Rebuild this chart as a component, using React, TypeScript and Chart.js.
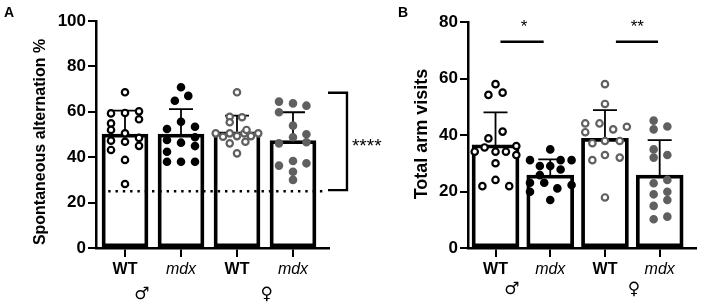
import React, { useEffect, useRef } from 'react';
import { Chart, registerables } from 'chart.js';

Chart.register(...registerables);

const FONT = '"Liberation Sans", Arial, "DejaVu Sans", sans-serif';
const SYMBOL_FONT = '"DejaVu Sans", sans-serif';
const GRAY = '#606060';

// ---- shared categories ----
const CATEGORIES = ['WT', 'mdx', 'WT', 'mdx'];
const SEXES = ['♂', '♀'];
const SEX_POS = [0.3, 2.53];

// ---- Panel A : spontaneous alternation ----
const A_TITLE = 'Spontaneous alternation %';
const A_Y_MAX = 100;
const A_Y_STEP = 20;
const A_MEANS = [50.2, 50.2, 51.2, 47.3];
const A_SD_TOP = [60.5, 61.2, 58.3, 59.8];
const A_WT_M = [68.6, 59.3, 59.5, 60.2, 54.9, 56.7, 52.0, 50.5, 47.3, 46.8, 48.5, 45.0, 43.2, 38.8, 28.2];
const A_WT_M_JIT = [0, -0.25, 0, 0.25, -0.25, 0.25, -0.25, 0, -0.25, 0, 0.25, 0.25, -0.25, 0, 0];
const A_MDX_M = [70.8, 64.9, 67.0, 55.6, 52.4, 53.4, 47.6, 46.4, 48.8, 44.9, 42.4, 38.0, 38.0, 38.0];
const A_MDX_M_JIT = [0, -0.11, 0.13, 0, -0.25, 0.25, -0.25, 0, 0.25, 0.25, -0.25, -0.25, 0, 0.25];
const A_WT_F = [68.6, 57.8, 57.6, 55.4, 50.5, 49.0, 50.5, 49.3, 50.5, 52.0, 49.3, 50.5, 46.1, 46.8, 41.7];
const A_WT_F_JIT = [0, -0.13, 0.09, -0.13, -0.38, -0.25, -0.13, 0, 0.13, 0.17, 0.25, 0.38, -0.13, 0.15, 0];
const A_MDX_F = [64.5, 63.7, 62.7, 59.8, 53.9, 48.8, 50.1, 46.1, 46.6, 36.3, 38.3, 37.3, 33.6, 30.0];
const A_MDX_F_JIT = [-0.25, 0, 0.24, -0.25, 0, 0, 0.24, -0.25, 0.24, -0.25, 0, 0.24, 0, 0];
const A_CHANCE = 25;
const A_BRACKET = [68.4, 25.5];
const A_BRACKET_LABEL = '****';

// ---- Panel B : total arm visits ----
const B_TITLE = 'Total arm visits';
const B_Y_MAX = 80;
const B_Y_STEP = 20;
const B_MEANS = [36.5, 25.8, 38.8, 25.8];
const B_SD_TOP = [48.0, 31.4, 48.8, 38.2];
const B_WT_M = [58.0, 54.2, 55.0, 41.2, 38.8, 35.6, 34.1, 34.1, 34.1, 36.1, 32.9, 30.0, 24.1, 21.9, 21.9];
const B_WT_M_JIT = [0, -0.13, 0.13, 0.13, -0.13, -0.2, -0.38, 0, 0.19, 0.38, 0.38, 0, 0, -0.24, 0.25];
const B_MDX_M = [34.9, 31.1, 29.0, 29.0, 31.1, 31.1, 27.8, 25.8, 23.1, 23.1, 22.3, 19.9, 21.1, 17.0];
const B_MDX_M_JIT = [0, -0.37, -0.19, 0, 0.19, 0.39, 0.19, -0.19, -0.37, -0.11, 0.39, -0.37, 0.13, 0];
const B_WT_F = [58.0, 51.0, 44.1, 41.0, 44.1, 42.0, 42.9, 37.1, 37.9, 37.9, 31.1, 32.9, 32.0, 17.9];
const B_WT_F_JIT = [0, 0, -0.36, -0.36, -0.1, 0.15, 0.4, -0.23, 0, 0.27, -0.23, 0, 0.27, 0];
const B_MDX_F = [45.1, 42.0, 43.0, 34.9, 32.0, 32.9, 22.9, 24.1, 19.0, 19.9, 14.9, 17.0, 10.2, 11.1];
const B_MDX_F_JIT = [-0.11, -0.11, 0.14, -0.11, -0.11, 0.14, -0.11, 0.14, -0.11, 0.14, -0.11, 0.14, -0.11, 0.14];
const B_SIG_Y = 73;
const B_SIG_LABELS = ['*', '**'];

const GROUP_STYLES = [
  { bg: '#ffffff', border: '#000000' },
  { bg: '#000000', border: '#000000' },
  { bg: '#ffffff', border: GRAY },
  { bg: GRAY, border: GRAY },
];

type Spec = {
  letter: string;
  letterX: number;
  title: string;
  titleX: number;
  titleY: number;
  titleSize: number;
  yMax: number;
  yStep: number;
  yAxisW: number;
  xMin: number;
  xMax: number;
  padRight: number;
  padTop: number;
  barW: number;
  means: number[];
  sdTop: number[];
  groups: number[][];
  jitter: number[][];
  sexY: number;
  extra: (chart: any) => void;
};

function errorAndRefPlugin(spec: Spec) {
  return {
    id: 'errbars-' + spec.letter,
    afterDatasetDraw(chart: any, args: any) {
      const meta = chart.getDatasetMeta(args.index);
      if (meta.type !== 'bar') return;
      const { ctx } = chart;
      const x = chart.scales.x;
      const y = chart.scales.y;
      ctx.save();
      ctx.strokeStyle = '#000';
      ctx.lineWidth = 1.8;
      spec.means.forEach((m, i) => {
        const px = x.getPixelForValue(i);
        const y0 = y.getPixelForValue(m);
        const y1 = y.getPixelForValue(spec.sdTop[i]);
        ctx.beginPath();
        ctx.moveTo(px, y0);
        ctx.lineTo(px, y1);
        ctx.moveTo(px - 12, y1);
        ctx.lineTo(px + 12, y1);
        ctx.stroke();
      });
      if (spec.letter === 'A') {
        const yy = y.getPixelForValue(A_CHANCE);
        ctx.setLineDash([2.4, 4.9]);
        ctx.lineWidth = 2.4;
        ctx.beginPath();
        ctx.moveTo(x.getPixelForValue(-0.3), yy);
        ctx.lineTo(x.getPixelForValue(3.59), yy);
        ctx.stroke();
      }
      ctx.restore();
    },
    afterDraw(chart: any) {
      const { ctx } = chart;
      const x = chart.scales.x;
      ctx.save();
      ctx.fillStyle = '#000';
      ctx.font = `bold 14px ${FONT}`;
      ctx.textAlign = 'left';
      ctx.textBaseline = 'alphabetic';
      ctx.fillText(spec.letter, spec.letterX, 17);

      ctx.save();
      ctx.translate(spec.titleX, spec.titleY);
      ctx.rotate(-Math.PI / 2);
      ctx.font = `bold ${spec.titleSize}px ${FONT}`;
      ctx.textAlign = 'center';
      ctx.fillText(spec.title, 0, 0);
      ctx.restore();

      ctx.font = `17px ${SYMBOL_FONT}`;
      ctx.textAlign = 'center';
      ctx.textBaseline = 'middle';
      SEXES.forEach((s, i) => ctx.fillText(s, x.getPixelForValue(SEX_POS[i]), spec.sexY));
      ctx.restore();
      spec.extra(chart);
    },
  };
}

function drawA(chart: any) {
  const { ctx } = chart;
  const x = chart.scales.x;
  const y = chart.scales.y;
  const bx = x.getPixelForValue(3.964);
  const ax = x.getPixelForValue(3.625);
  const y0 = y.getPixelForValue(A_BRACKET[0]);
  const y1 = y.getPixelForValue(A_BRACKET[1]);
  ctx.save();
  ctx.strokeStyle = '#000';
  ctx.lineWidth = 2.4;
  ctx.beginPath();
  ctx.moveTo(ax, y0);
  ctx.lineTo(bx, y0);
  ctx.lineTo(bx, y1);
  ctx.lineTo(ax, y1);
  ctx.stroke();
  ctx.fillStyle = '#000';
  ctx.font = `19px ${FONT}`;
  ctx.textAlign = 'left';
  ctx.textBaseline = 'alphabetic';
  ctx.fillText(A_BRACKET_LABEL, x.getPixelForValue(4.053), (y0 + y1) / 2 + 11);
  ctx.restore();
}

function drawB(chart: any) {
  const { ctx } = chart;
  const x = chart.scales.x;
  const y = chart.scales.y;
  const lines = [
    [0.09, 0.88, 0.52],
    [2.2, 2.97, 2.59],
  ];
  ctx.save();
  ctx.strokeStyle = '#000';
  ctx.fillStyle = '#000';
  ctx.lineWidth = 2.4;
  const yy = y.getPixelForValue(B_SIG_Y);
  ctx.font = `17px ${FONT}`;
  ctx.textAlign = 'center';
  ctx.textBaseline = 'alphabetic';
  lines.forEach(([a, b, c], i) => {
    ctx.beginPath();
    ctx.moveTo(x.getPixelForValue(a), yy);
    ctx.lineTo(x.getPixelForValue(b), yy);
    ctx.stroke();
    ctx.fillText(B_SIG_LABELS[i], x.getPixelForValue(c), y.getPixelForValue(B_Y_MAX) + 10);
  });
  ctx.restore();
}

function makeConfig(spec: Spec): any {
  const scatterSets = spec.groups.map((vals, gi) => ({
    type: 'scatter',
    data: vals.map((v, k) => ({ x: gi + spec.jitter[gi][k], y: v })),
    pointRadius: 3.2,
    pointBorderWidth: 2.2,
    pointBackgroundColor: GROUP_STYLES[gi].bg,
    pointBorderColor: GROUP_STYLES[gi].border,
    order: 0,
    clip: false,
  }));
  const barSet = {
    type: 'bar',
    data: spec.means.map((m, i) => ({ x: i, y: m })),
    backgroundColor: '#ffffff',
    borderColor: '#000000',
    borderWidth: 3.8,
    borderSkipped: false,
    barThickness: spec.barW,
    order: 1,
  };
  const gridCommon = {
    display: true,
    drawOnChartArea: false,
    drawTicks: true,
    offset: false,
    color: '#000',
    lineWidth: 2,
    tickColor: '#000',
    tickWidth: 2,
  };
  return {
    type: 'bar',
    data: { datasets: [...scatterSets, barSet] },
    options: {
      responsive: false,
      animation: false,
      events: [],
      layout: { padding: { top: spec.padTop, right: spec.padRight, bottom: 0, left: 0 } },
      plugins: { legend: { display: false }, tooltip: { enabled: false } },
      scales: {
        x: {
          type: 'linear',
          min: spec.xMin,
          max: spec.xMax,
          offset: false,
          afterBuildTicks: (s: any) => {
            s.ticks = CATEGORIES.map((_, i) => ({ value: i }));
          },
          afterFit: (s: any) => {
            s.height = 58;
          },
          ticks: {
            autoSkip: false,
            maxRotation: 0,
            padding: 3,
            color: '#000',
            callback: (v: number) => CATEGORIES[v] ?? '',
            font: (ctx: any) => ({
              family: FONT,
              size: 16,
              weight: ctx.index % 2 === 0 ? 'bold' : 'normal',
              style: ctx.index % 2 === 0 ? 'normal' : 'italic',
            }),
          },
          grid: { ...gridCommon, tickLength: 9 },
          border: { display: true, color: '#000', width: 2.5 },
        },
        y: {
          type: 'linear',
          min: 0,
          max: spec.yMax,
          afterFit: (s: any) => {
            s.width = spec.yAxisW;
          },
          ticks: {
            stepSize: spec.yStep,
            padding: 2,
            color: '#000',
            font: { family: FONT, size: 17, weight: 'bold' },
          },
          grid: { ...gridCommon, tickLength: 8 },
          border: { display: true, color: '#000', width: 2.5 },
        },
      },
    },
    plugins: [errorAndRefPlugin(spec)],
  };
}

const SPEC_A: Spec = {
  letter: 'A',
  letterX: 4,
  title: A_TITLE,
  titleX: 45,
  titleY: 142,
  titleSize: 16,
  yMax: A_Y_MAX,
  yStep: A_Y_STEP,
  yAxisW: 96,
  xMin: -0.518,
  xMax: 3.643,
  padRight: 61,
  padTop: 21,
  barW: 46,
  means: A_MEANS,
  sdTop: A_SD_TOP,
  groups: [A_WT_M, A_MDX_M, A_WT_F, A_MDX_F],
  jitter: [A_WT_M_JIT, A_MDX_M_JIT, A_WT_F_JIT, A_MDX_F_JIT],
  sexY: 295,
  extra: drawA,
};

const SPEC_B: Spec = {
  letter: 'B',
  letterX: 8,
  title: B_TITLE,
  titleX: 37,
  titleY: 134,
  titleSize: 18,
  yMax: B_Y_MAX,
  yStep: B_Y_STEP,
  yAxisW: 78,
  xMin: -0.503,
  xMax: 3.66,
  padRight: 2,
  padTop: 22,
  barW: 47,
  means: B_MEANS,
  sdTop: B_SD_TOP,
  groups: [B_WT_M, B_MDX_M, B_WT_F, B_MDX_F],
  jitter: [B_WT_M_JIT, B_MDX_M_JIT, B_WT_F_JIT, B_MDX_F_JIT],
  sexY: 290,
  extra: drawB,
};

function Panel({ spec, left, width }: { spec: Spec; left: number; width: number }) {
  const ref = useRef<HTMLCanvasElement | null>(null);
  useEffect(() => {
    if (!ref.current) return;
    const chart = new Chart(ref.current, makeConfig(spec));
    return () => chart.destroy();
  }, [spec]);
  return (
    <canvas
      ref={ref}
      width={width}
      height={306}
      style={{ position: 'absolute', left, top: 0, width, height: 306, display: 'block' }}
    />
  );
}

export default function App() {
  return (
    <div
      style={{
        position: 'fixed',
        left: 0,
        top: 0,
        width: 702,
        height: 306,
        background: '#ffffff',
        overflow: 'hidden',
      }}
    >
      <Panel spec={SPEC_A} left={0} width={390} />
      <Panel spec={SPEC_B} left={390} width={312} />
    </div>
  );
}
